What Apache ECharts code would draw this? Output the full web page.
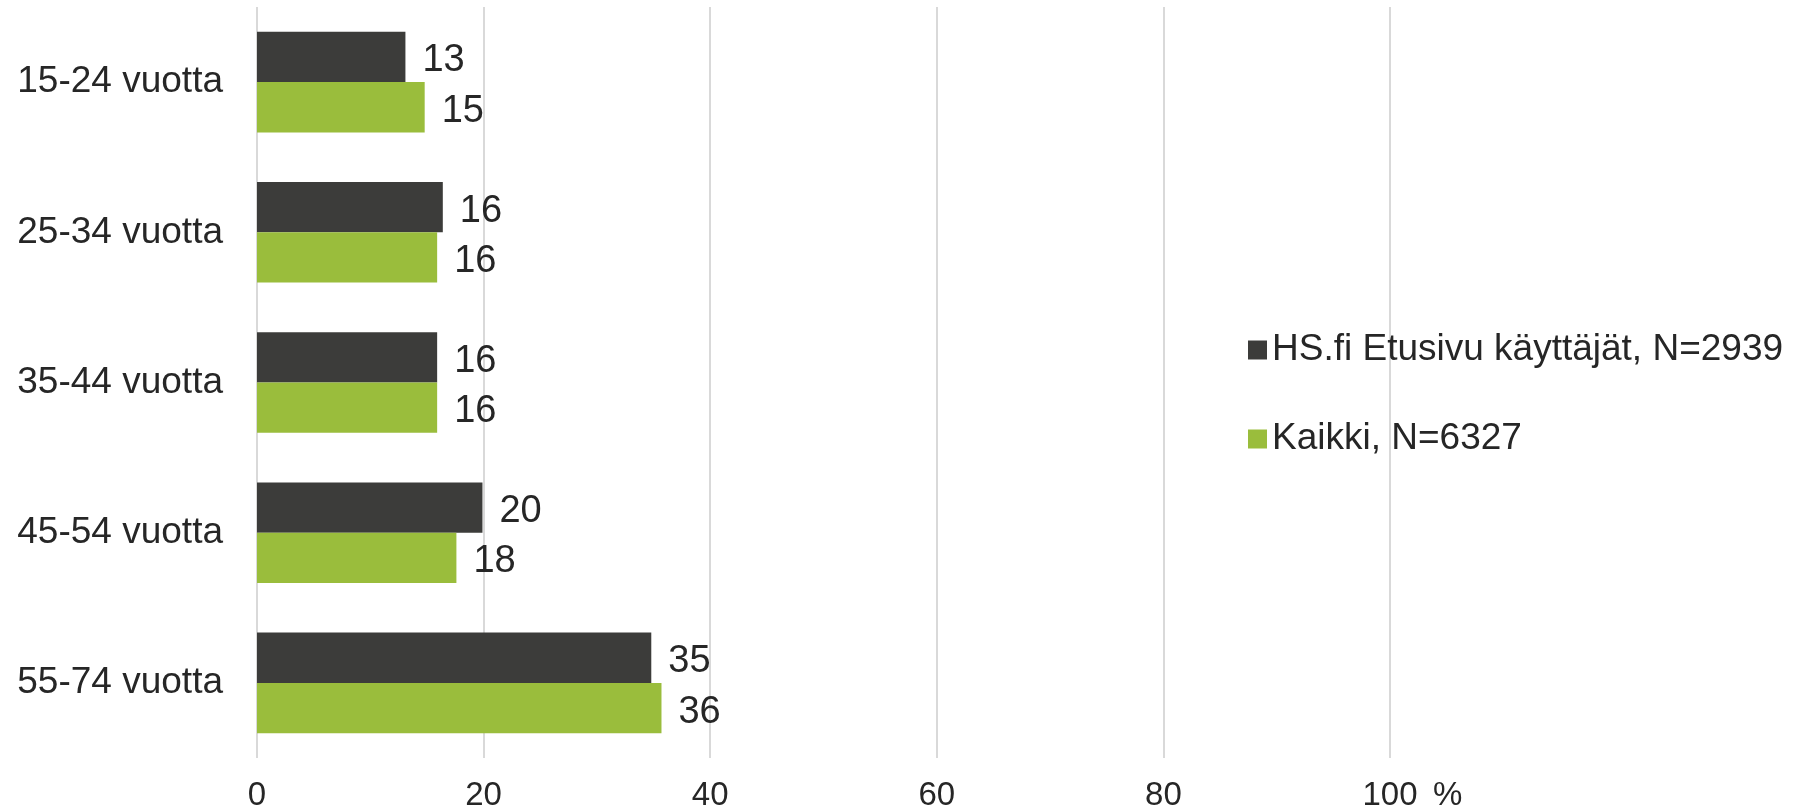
<!DOCTYPE html>
<html>
<head>
<meta charset="utf-8">
<script src="https://cdn.jsdelivr.net/npm/echarts@6/dist/echarts.min.js"></script>
<style>
html,body{margin:0;padding:0;background:#fff;}
#chart{width:1810px;height:812px;}
</style>
</head>
<body>
<div id="chart"></div>
<script>
var categories = ['15-24 vuotta', '25-34 vuotta', '35-44 vuotta', '45-54 vuotta', '55-74 vuotta'];
var seriesNames = ['HS.fi Etusivu käyttäjät, N=2939', 'Kaikki, N=6327'];
var hsValues = [13.1, 16.4, 15.9, 19.9, 34.8];
var allValues = [14.8, 15.9, 15.9, 17.6, 35.7];
var xTicks = [0, 20, 40, 60, 80, 100];

var FONT = '"Liberation Sans", Arial, sans-serif';
var chart = echarts.init(document.getElementById('chart'));
var labelStyle = {
  show: true,
  position: 'right',
  distance: 17,
  offset: [0, 4],
  fontSize: 38,
  fontFamily: FONT,
  color: '#262626',
  formatter: function (p) { return Math.round(p.value); }
};
chart.setOption({
  animation: false,
  textStyle: { fontFamily: FONT },
  grid: { left: 257, right: 420, top: 7, bottom: 50, containLabel: false },
  legend: {
    orient: 'vertical',
    left: 1243,
    top: 325,
    itemWidth: 19,
    itemHeight: 19,
    itemGap: 49,
    icon: 'rect',
    textStyle: { fontSize: 37, fontFamily: FONT, color: '#262626', lineHeight: 40 },
    data: seriesNames
  },
  xAxis: {
    type: 'value',
    min: 0,
    max: 100,
    interval: 20,
    name: '%',
    nameLocation: 'end',
    nameGap: 43,
    nameTextStyle: { fontSize: 33, fontFamily: FONT, color: '#262626', verticalAlign: 'top', padding: [21, 0, 0, 0] },
    axisLine: { show: false },
    axisTick: { show: false },
    axisLabel: {
      fontSize: 33, fontFamily: FONT, color: '#262626', margin: 21,
      formatter: function (v) { return xTicks.indexOf(v) >= 0 ? String(v) : ''; }
    },
    splitLine: { show: true, lineStyle: { color: '#d9d9d9', width: 2 } }
  },
  yAxis: {
    type: 'category',
    inverse: true,
    data: categories,
    axisLine: { show: false },
    axisTick: { show: false },
    axisLabel: { fontSize: 37, fontFamily: FONT, color: '#262626', margin: 34 }
  },
  series: [
    {
      name: seriesNames[0],
      type: 'bar',
      data: hsValues,
      barGap: '0%',
      barCategoryGap: '33%',
      itemStyle: { color: '#3c3c3a' },
      label: labelStyle
    },
    {
      name: seriesNames[1],
      type: 'bar',
      data: allValues,
      barGap: '0%',
      barCategoryGap: '33%',
      itemStyle: { color: '#9abd3c' },
      label: labelStyle
    }
  ]
});
</script>
</body>
</html>
